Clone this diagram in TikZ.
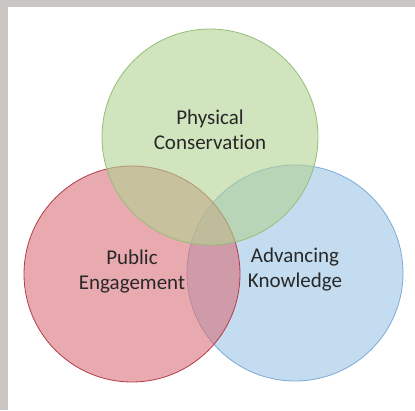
\documentclass[tikz,border=0pt]{standalone}
\usepackage{fontspec}
\setmainfont{Carlito}[Ligatures=NoCommon]
\usetikzlibrary{positioning}

\definecolor{bggrey}{RGB}{201,198,196}
\definecolor{greenfill}{RGB}{178,210,145}
\definecolor{greenline}{RGB}{150,190,120}
\definecolor{redfill}{RGB}{218,113,123}
\definecolor{redline}{RGB}{180,60,75}
\definecolor{bluefill}{RGB}{155,197,230}
\definecolor{blueline}{RGB}{125,170,215}
\definecolor{labelgrey}{RGB}{40,40,40}

\begin{document}
\begin{tikzpicture}[x=1pt, y=-1pt,
    area/.style={circle, minimum size=216pt, inner sep=0pt, line width=0.8pt, fill opacity=0.6},
    areatext/.style={align=center, text=labelgrey, font=\fontsize{21}{25}\selectfont}]
% background
\fill[bggrey] (0,0) rectangle (415,410);
\fill[white] (8,7) rectangle (415,410);
\useasboundingbox (0,0) rectangle (415,410);

% circles
\node[area, fill=bluefill, draw=blueline] (knowledge) at (295,273) {};
\node[area, fill=redfill, draw=redline] (engagement) at (132,274) {};
\node[area, fill=greenfill, draw=greenline] (conservation) at (210,137) {};

% labels
\node[areatext] (conservationtext) at (210,130) {Physical\\Conservation};
\node[areatext] (engagementtext) at (132,272) {Public\\Engagement};
\node[areatext] (knowledgetext) at (295,270) {Advancing\\Knowledge};
\end{tikzpicture}
\end{document}
